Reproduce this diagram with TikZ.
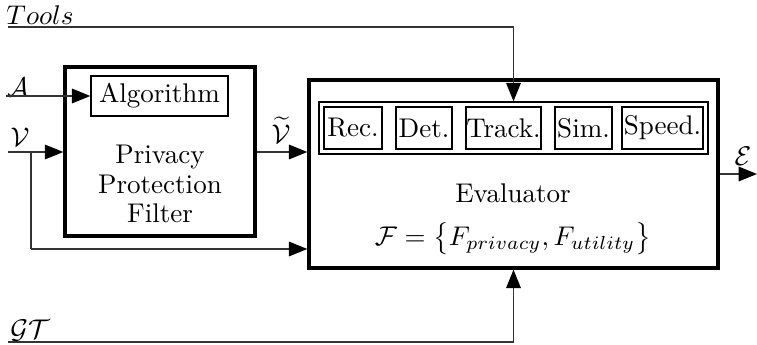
\documentclass[tikz,border=0pt]{standalone}
\usetikzlibrary{fit,arrows.meta}
\begin{document}
\begin{tikzpicture}[x=0.37pt,y=-0.37pt,
  thickbox/.style={draw,line width=1.25pt,inner sep=0pt},
  thinbox/.style={draw,line width=0.5pt,inner sep=0pt},
  conn/.style={line width=0.5pt,draw=black!80},
  arr/.style={conn,-{Triangle[length=6.8pt,width=5.4pt,color=black]}},
  lbl/.style={inner sep=0pt}]
\useasboundingbox (0,0) rectangle (757,345);
% boxes
\node[thickbox,fit={(65,67)(255,236)}] (filt) {};
\node[thickbox,fit={(309,80)(718,268)}] (eval) {};
\node[thinbox,fit={(319,102)(708,154)}] (tbox) {};
\node[thinbox,fit={(91,76)(228,116)}] (alg) {};
\node[thinbox,fit={(324,107)(382,149)}] (rec) {};
\node[thinbox,fit={(396,107)(452,149)}] (det) {};
\node[thinbox,fit={(466,107)(541,149)}] (trk) {};
\node[thinbox,fit={(555,107)(612,149)}] (sim) {};
\node[thinbox,fit={(622,107)(703,149)}] (spd) {};
% texts
\node[lbl] (talg) at (alg.center) {Algorithm};
\node[lbl] (trec) at (rec.center) {Rec.};
\node[lbl] (tdet) at (det.center) {Det.};
\node[lbl] (ttrk) at (trk.center) {Track.};
\node[lbl] (tsim) at (sim.center) {Sim.};
\node[lbl] (tspd) at (spd.center) {Speed.};
\node[lbl,align=center,execute at begin node={\baselineskip=11pt}] (ftxt) at (160,184) {Privacy\\Protection\\Filter};
\node[lbl] (etxt) at (513,193) {Evaluator};
\node[lbl] (ftx) at (513,239) {$\mathcal{F}=\bigl\{F_{privacy},F_{utility}\bigr\}$};
\node[lbl] (ltools) at (40,15) {$Tools$};
\node[lbl] (la) at (18,87) {$\mathcal{A}$};
\node[lbl] (lv) at (20,137) {$\mathcal{V}$};
\node[lbl] (lvt) at (281,130) {$\widetilde{\mathcal{V}}$};
\node[lbl] (le) at (743,156) {$\mathcal{E}$};
\node[lbl] (lgt) at (30,331) {$\mathcal{GT}$};
% coordinates
\coordinate (toolsS) at (8,27);
\coordinate (aS) at (6,96);
\coordinate (vS) at (8,152);
\coordinate (vB) at (31,152);
\coordinate (vL) at (31,249);
\coordinate (eOut) at (757,174);
\coordinate (gS) at (8,342);
% connectors
\draw[arr] (toolsS) -| (tbox.north);
\draw[arr] (aS) -- (alg.west);
\draw[arr] (vS) -- (filt.west |- vS);
\draw[conn] (vB) -- (vL);
\draw[arr] (vL) -- (eval.west |- vL);
\draw[arr] (filt.east |- vS) -- (eval.west |- vS);
\draw[arr] (eval.east |- eOut) -- (eOut);
\draw[arr] (gS) -| (eval.south);
\end{tikzpicture}
\end{document}
